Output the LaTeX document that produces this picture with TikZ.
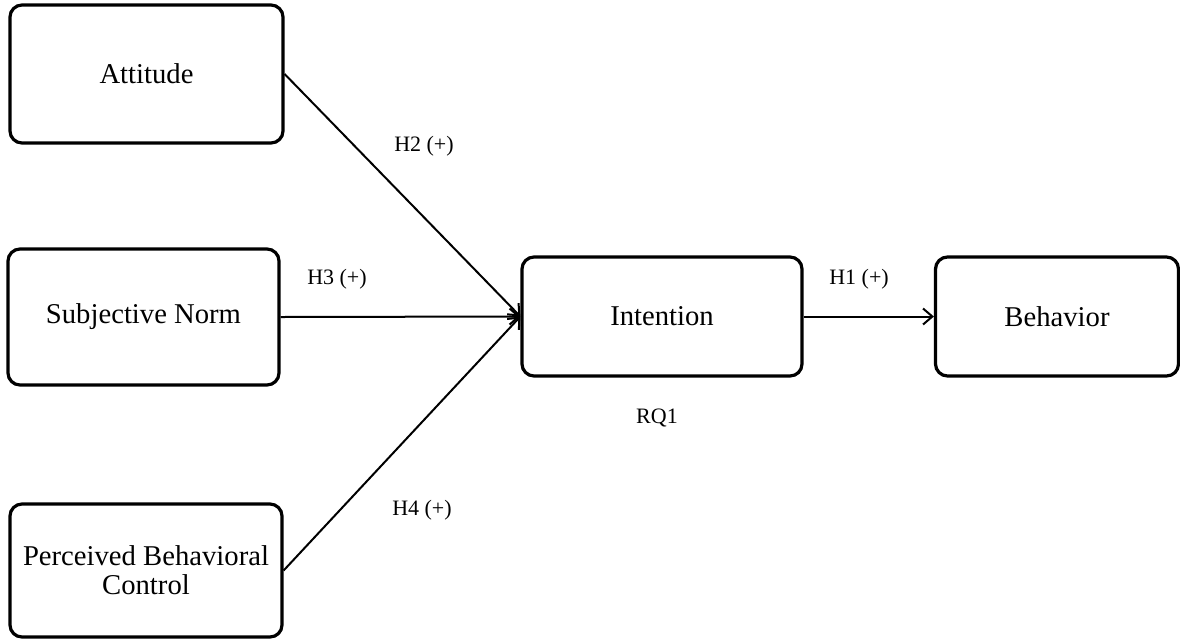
\documentclass[tikz,border=0pt]{standalone}
\usepackage{fontspec}
\setmainfont{Liberation Serif}
\usetikzlibrary{arrows.meta}
\begin{document}
\begin{tikzpicture}[x=0.75pt,y=-0.75pt,
  box/.style={draw=black, line width=2.4pt, rounded corners=9pt, fill=white, align=center,
    inner sep=0pt, font=\fontsize{21.5}{21.75}\selectfont},
  conn/.style={line width=1.5pt, -{Straight Barb[length=7pt,width=12pt,line width=1.5pt]}},
  lab/.style={font=\fontsize{16.5}{18}\selectfont, inner sep=0pt}
]
\useasboundingbox (0,0) rectangle (1180,640);
\node[box, minimum width={273*0.75pt}, minimum height={138*0.75pt}] (att) at (146.5,74) {Attitude};
\node[box, minimum width={271*0.75pt}, minimum height={136*0.75pt}] (sn) at (143.5,317) {Subjective Norm};
\node[box, minimum width={272*0.75pt}, minimum height={133*0.75pt}] (pbc) at (146,570.5) {Perceived Behavioral\\Control};
\node[box, minimum width={280*0.75pt}, minimum height={119*0.75pt}] (int) at (662,316.5) {Intention};
\node[box, minimum width={243*0.75pt}, minimum height={119*0.75pt}] (beh) at (1057,316.5) {Behavior};
\draw[conn] (att.east) -- (int.west);
\draw[conn] (sn.east) -- (int.west);
\draw[conn] (pbc.east) -- (int.west);
\draw[conn] (int.east) -- (beh.west);
\node[lab] (h2) at (424,146) {H2 (+)};
\node[lab] (h3) at (337,279) {H3 (+)};
\node[lab] (h4) at (422,510) {H4 (+)};
\node[lab] (h1) at (859,279) {H1 (+)};
\node[lab] (rq) at (657,418) {RQ1};
\end{tikzpicture}
\end{document}
